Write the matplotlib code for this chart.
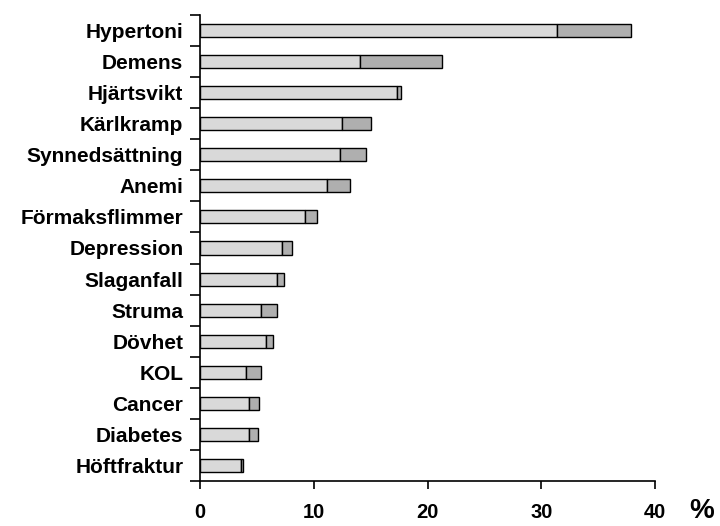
import numpy as np
import matplotlib
matplotlib.use('Agg')
import matplotlib.pyplot as plt
from matplotlib.ticker import FixedLocator

categories = ['Hypertoni', 'Demens', 'Hjärtsvikt', 'Kärlkramp', 'Synnedsättning',
              'Anemi', 'Förmaksflimmer', 'Depression', 'Slaganfall', 'Struma',
              'Dövhet', 'KOL', 'Cancer', 'Diabetes', 'Höftfraktur']
first_part = [31.4, 14.1, 17.3, 12.5, 12.3, 11.2, 9.2, 7.2, 6.8, 5.4, 5.8, 4.0, 4.3, 4.3, 3.6]
total = [37.9, 21.3, 17.7, 15.0, 14.6, 13.2, 10.3, 8.1, 7.4, 6.8, 6.4, 5.4, 5.2, 5.1, 3.8]
second_part = [t - f for t, f in zip(total, first_part)]

plt.rcParams['font.family'] = ['Liberation Sans', 'DejaVu Sans']

fig = plt.figure(figsize=(7.2, 5.26), dpi=100)
ax = fig.add_axes([0.2778, 0.0856, 0.6319, 0.8859])

y = np.arange(len(categories))[::-1]
ax.barh(y, first_part, height=0.42, color='#d9d9d9', edgecolor='black', linewidth=1)
ax.barh(y, second_part, left=first_part, height=0.42, color='#afafaf',
        edgecolor='black', linewidth=1)

ax.set_xlim(0, 40)
ax.set_ylim(-0.5, len(categories) - 0.5)
ax.set_xticks([0, 10, 20, 30, 40])
ax.set_xticklabels(['0', '10', '20', '30', '40'], fontsize=14.5, fontweight='bold')
ax.tick_params(axis='x', direction='out', length=6, width=1.2, pad=10)

ax.yaxis.set_major_locator(FixedLocator(np.arange(-0.5, len(categories), 1.0)))
ax.set_yticklabels([])
ax.yaxis.set_minor_locator(FixedLocator(y))
ax.set_yticklabels(categories, minor=True, fontsize=15, fontweight='bold')
ax.tick_params(axis='y', which='major', direction='out', length=7, width=1.2)
ax.tick_params(axis='y', which='minor', length=0, pad=12)

for side in ['top', 'right']:
    ax.spines[side].set_visible(False)
for side in ['left', 'bottom']:
    ax.spines[side].set_linewidth(1.2)

fig.text(0.975, 0.003, '%', fontsize=20, fontweight='bold', ha='center', va='bottom')

fig.savefig('out.png', dpi=100)
